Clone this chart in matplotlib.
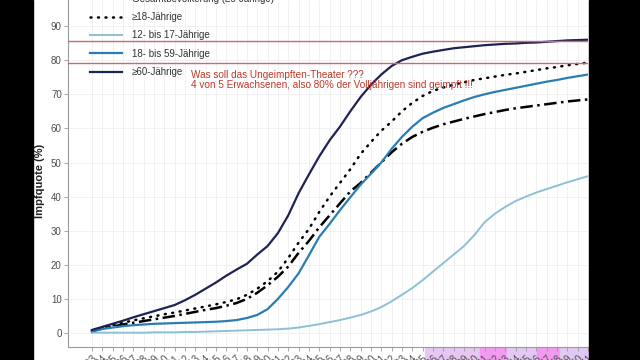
import matplotlib
matplotlib.use("Agg")
import matplotlib.pyplot as plt
from matplotlib.patches import Rectangle

plt.rcParams['font.family'] = ['Liberation Sans', 'DejaVu Sans']

# Kalenderwochen 2021 (nur die letzten Ziffern sind im Bild sichtbar)
weeks = list(range(3, 52))
week_labels = [f"2021-KW{w:02d}" for w in weeks]

gesamt = [0.5, 1.3, 1.9, 2.5, 3.0, 3.5, 4.0, 4.5, 5.0, 5.6, 6.2, 6.8, 7.3, 8.0, 8.8,
          10.0, 11.8, 14.0, 16.5, 19.5, 23.5, 27.0, 31.0, 34.5, 38.0, 41.5, 44.0, 47.0,
          50.0, 53.0, 55.5, 57.5, 59.0, 60.2, 61.2, 62.0, 62.8, 63.5, 64.2, 64.8, 65.4,
          65.9, 66.3, 66.7, 67.1, 67.5, 67.9, 68.2, 68.5]
ab18 = [0.5, 1.5, 2.3, 3.0, 3.7, 4.3, 4.9, 5.5, 6.0, 6.6, 7.2, 7.8, 8.4, 9.1, 9.9,
        11.2, 13.0, 15.2, 18.0, 22.0, 26.5, 30.5, 35.5, 40.0, 44.0, 48.0, 52.5, 56.0,
        59.3, 62.0, 65.0, 67.5, 69.5, 71.0, 72.0, 72.8, 73.5, 74.2, 74.7, 75.2, 75.7,
        76.1, 76.6, 77.1, 77.6, 78.0, 78.5, 78.9, 79.3]
j12_17 = [0.1, 0.1, 0.1, 0.1, 0.1, 0.1, 0.2, 0.2, 0.2, 0.3, 0.3, 0.4, 0.5, 0.6, 0.7,
          0.8, 0.9, 1.0, 1.1, 1.3, 1.6, 2.1, 2.6, 3.2, 3.8, 4.5, 5.3, 6.3, 7.6, 9.3,
          11.2, 13.2, 15.5, 18.0, 20.5, 23.0, 25.5, 28.7, 32.5, 35.0, 37.0, 38.7, 40.0,
          41.2, 42.2, 43.2, 44.2, 45.1, 46.0]
j18_59 = [0.5, 1.2, 1.6, 2.0, 2.3, 2.5, 2.7, 2.8, 2.9, 3.0, 3.1, 3.2, 3.3, 3.5, 3.8,
          4.4, 5.3, 7.0, 10.0, 13.5, 17.5, 22.8, 28.2, 32.0, 36.0, 39.8, 43.5, 46.7,
          50.0, 54.0, 57.5, 60.5, 63.0, 64.6, 66.0, 67.1, 68.2, 69.2, 70.0, 70.7, 71.3,
          71.9, 72.5, 73.1, 73.7, 74.2, 74.8, 75.3, 75.8]
ab60 = [0.9, 1.8, 2.7, 3.6, 4.6, 5.5, 6.4, 7.3, 8.2, 9.6, 11.2, 13.0, 14.8, 16.8, 18.6,
        20.3, 23.0, 25.5, 29.3, 34.5, 41.0, 46.5, 51.8, 56.5, 60.5, 65.0, 69.2, 72.8,
        75.8, 78.3, 80.0, 81.0, 81.9, 82.5, 83.0, 83.5, 83.8, 84.1, 84.4, 84.6, 84.8,
        84.9, 85.1, 85.2, 85.4, 85.6, 85.8, 85.9, 86.0]

marks = [85.6, 79.2]  # rot eingezeichnete Linien
note = ("Was soll das Ungeimpften-Theater ???\n"
        "4 von 5 Erwachsenen, also 80% der Volljährigen sind geimpft !!!")

x = list(range(len(weeks)))

fig = plt.figure(figsize=(6.4, 3.6), dpi=100)
ax = fig.add_axes([68 / 640, 1 - 347 / 360, 520 / 640, 347 / 360])

ax.plot(x, gesamt, color='black', lw=1.8, linestyle=(0, (5, 1.8, 1, 1.8)),
        label='Gesamtbevölkerung (≥5-Jährige)')
ax.plot(x, ab18, color='black', lw=1.8, linestyle=(0, (0.4, 2.6)),
        dash_capstyle='round', label='≥18-Jährige')
ax.plot(x, j12_17, color='#8cc0d4', lw=1.4, label='12- bis 17-Jährige')
ax.plot(x, j18_59, color='#2a7db3', lw=1.6, label='18- bis 59-Jährige')
ax.plot(x, ab60, color='#1f2255', lw=1.6, label='≥60-Jährige')

for m in marks:
    ax.axhline(m, color='#c86a72', lw=1.0, zorder=5)

ax.text(191 / 520 - 68 / 520, (347 - 80) / 347, note, transform=ax.transAxes,
        color='#c0392b', fontsize=7.2, va='center', ha='left', linespacing=1.1)

ax.set_xlim(-2.31, 47.69)
ax.set_ylim(-4.1, 97.65)
ax.set_yticks(range(0, 100, 10))
ax.set_xticks(x)
ax.set_xticklabels(week_labels, rotation=45, ha='right', rotation_mode='anchor')

ax.grid(True, color='#efefef', lw=0.6)
ax.set_axisbelow(True)
for s in ['top', 'right']:
    ax.spines[s].set_visible(False)
for s in ['left', 'bottom']:
    ax.spines[s].set_color('#9a9a9a')
    ax.spines[s].set_linewidth(0.8)
ax.tick_params(colors='#9a9a9a', length=3, width=0.6, labelsize=7,
               labelcolor='#4d4d4d', pad=1.5)

ax.set_ylabel('Impfquote (%)', fontsize=8, fontweight='bold', color='#222222')
ax.yaxis.set_label_coords(-23 / 520, 0.48)

leg = ax.legend(loc='upper left', bbox_to_anchor=(90 / 640, 1.017),
                bbox_transform=fig.transFigure, frameon=False, fontsize=7,
                borderpad=0, borderaxespad=0, labelspacing=0.85,
                handlelength=3.3, handletextpad=1.0)
for t in leg.get_texts():
    t.set_color('#333333')

# Markierung unter der x-Achse (rosa/lila Streifen)
stripes = [(425, 480, '#e6c6f2'), (480, 507, '#f29af0'), (507, 537, '#e2c9f3'),
           (537, 560, '#f29af0'), (560, 590, '#e2c9f3')]
for x0, x1, c in stripes:
    fig.add_artist(Rectangle((x0 / 640, 0), (x1 - x0) / 640, 12 / 360,
                             transform=fig.transFigure, color=c, zorder=-1))

# schwarze Ränder links/rechts
fig.add_artist(Rectangle((0, 0), 33 / 640, 1, transform=fig.transFigure,
                         color='black', zorder=10))
fig.add_artist(Rectangle((589 / 640, 0), 51 / 640, 1, transform=fig.transFigure,
                         color='black', zorder=10))

fig.savefig('out.png', dpi=100)
